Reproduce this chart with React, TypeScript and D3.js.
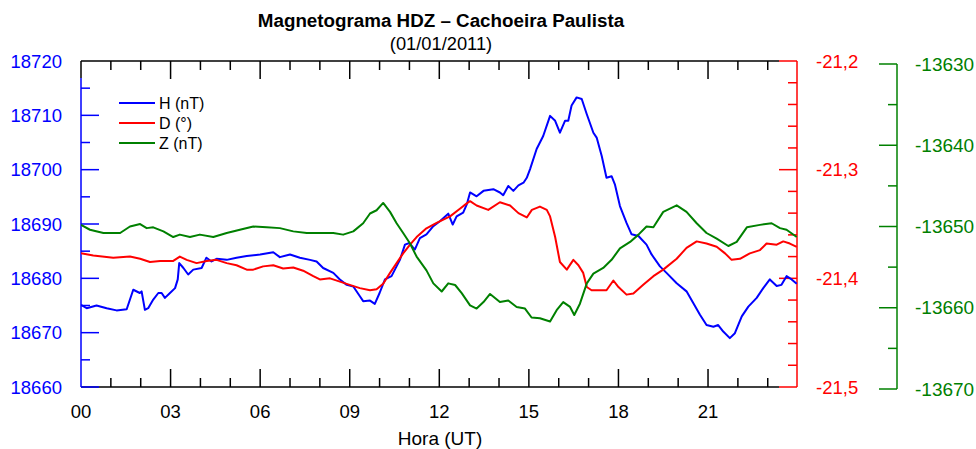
import React from "react";
import * as d3 from "d3";

// ---------- data ----------
const hHours = [0, 0.19, 0.52, 0.86, 1.19, 1.53, 1.64, 1.75, 1.97, 2.03, 2.14, 2.25, 2.42, 2.59, 2.7, 2.81, 2.98, 3.15, 3.24, 3.29, 3.43, 3.59, 3.76, 4.04, 4.2, 4.37, 4.54, 4.88, 5.21, 5.55, 6.0, 6.44, 6.66, 7.0, 7.33, 7.67, 7.89, 8.11, 8.45, 8.67, 8.9, 9.12, 9.34, 9.45, 9.68, 9.84, 10.0, 10.18, 10.4, 10.68, 10.85, 11.0, 11.18, 11.35, 11.57, 11.8, 12.02, 12.3, 12.45, 12.58, 12.8, 12.92, 13.03, 13.25, 13.48, 13.81, 14.03, 14.14, 14.31, 14.48, 14.65, 14.82, 14.93, 15.04, 15.26, 15.48, 15.71, 15.88, 16.04, 16.21, 16.32, 16.43, 16.6, 16.77, 16.94, 17.16, 17.27, 17.44, 17.6, 17.77, 17.88, 18.05, 18.27, 18.44, 18.67, 18.94, 19.11, 19.39, 19.61, 19.95, 20.28, 20.51, 20.73, 20.95, 21.18, 21.34, 21.51, 21.73, 21.9, 22.13, 22.35, 22.63, 22.85, 23.07, 23.3, 23.46, 23.63, 23.8, 23.97];
const hValues = [18675.1, 18674.5, 18675.0, 18674.5, 18674.1, 18674.3, 18676.1, 18677.9, 18677.3, 18677.6, 18674.2, 18674.5, 18676.1, 18677.3, 18677.3, 18676.4, 18677.3, 18678.2, 18679.8, 18682.8, 18681.9, 18680.7, 18681.6, 18681.9, 18683.8, 18683.1, 18683.6, 18683.4, 18683.8, 18684.1, 18684.4, 18684.8, 18683.9, 18684.4, 18683.8, 18683.4, 18683.1, 18681.9, 18681.0, 18679.8, 18678.8, 18678.5, 18676.7, 18675.8, 18675.9, 18675.3, 18677.3, 18679.8, 18680.4, 18683.4, 18686.2, 18686.5, 18685.3, 18687.4, 18688.1, 18689.6, 18690.5, 18691.9, 18689.9, 18691.4, 18692.1, 18693.6, 18695.8, 18695.1, 18696.1, 18696.4, 18695.8, 18695.3, 18697.0, 18696.1, 18697.1, 18697.6, 18698.5, 18700.1, 18703.8, 18706.2, 18709.9, 18709.0, 18706.8, 18709.0, 18709.0, 18711.8, 18713.3, 18713.0, 18710.2, 18706.8, 18705.9, 18702.5, 18698.5, 18698.8, 18697.3, 18693.3, 18690.2, 18688.1, 18687.8, 18686.2, 18684.4, 18682.2, 18681.0, 18679.1, 18677.6, 18675.4, 18673.3, 18671.4, 18671.1, 18671.4, 18670.2, 18669.0, 18669.9, 18673.0, 18674.8, 18676.4, 18678.2, 18679.8, 18678.6, 18678.8, 18680.4, 18679.8, 18679.0];

const dHours = [0, 0.41, 1.08, 1.64, 1.98, 2.31, 2.65, 3.09, 3.31, 3.54, 3.87, 4.21, 4.54, 4.88, 5.21, 5.55, 5.77, 6.1, 6.44, 6.77, 7.11, 7.44, 7.78, 8.0, 8.34, 8.67, 9.0, 9.34, 9.68, 9.9, 10.12, 10.35, 10.57, 10.79, 11.02, 11.24, 11.57, 11.91, 12.36, 12.69, 12.92, 13.03, 13.25, 13.64, 14.03, 14.37, 14.65, 14.93, 15.1, 15.37, 15.6, 15.71, 15.88, 16.04, 16.27, 16.49, 16.66, 16.82, 16.94, 17.1, 17.38, 17.6, 17.83, 18.0, 18.27, 18.5, 18.83, 19.17, 19.5, 19.95, 20.28, 20.62, 20.95, 21.29, 21.57, 21.79, 22.07, 22.4, 22.74, 22.96, 23.3, 23.52, 23.74, 23.97];
const dValues = [-21.377, -21.379, -21.381, -21.38, -21.382, -21.385, -21.384, -21.384, -21.38, -21.383, -21.386, -21.384, -21.383, -21.386, -21.388, -21.392, -21.392, -21.389, -21.388, -21.391, -21.39, -21.393, -21.398, -21.401, -21.4, -21.403, -21.406, -21.409, -21.411, -21.41, -21.405, -21.395, -21.386, -21.377, -21.369, -21.362, -21.354, -21.349, -21.343, -21.336, -21.331, -21.329, -21.333, -21.337, -21.33, -21.333, -21.34, -21.344, -21.337, -21.334, -21.337, -21.343, -21.362, -21.385, -21.392, -21.383, -21.388, -21.395, -21.408, -21.411, -21.411, -21.411, -21.402, -21.408, -21.415, -21.414, -21.406, -21.398, -21.392, -21.382, -21.372, -21.366, -21.368, -21.371, -21.377, -21.383, -21.382, -21.377, -21.374, -21.368, -21.369, -21.366, -21.368, -21.371];

const zHours = [0, 0.3, 0.75, 1.31, 1.64, 1.98, 2.2, 2.42, 2.76, 3.09, 3.31, 3.65, 3.98, 4.43, 4.88, 5.32, 5.77, 6.22, 6.66, 7.11, 7.56, 8.0, 8.45, 8.78, 9.12, 9.45, 9.68, 9.9, 10.12, 10.35, 10.57, 10.79, 11.02, 11.24, 11.57, 11.8, 12.08, 12.3, 12.53, 12.75, 13.03, 13.25, 13.48, 13.7, 14.03, 14.31, 14.59, 14.87, 15.09, 15.37, 15.71, 15.93, 16.15, 16.38, 16.52, 16.71, 16.94, 17.16, 17.49, 17.77, 18.05, 18.39, 18.67, 18.94, 19.17, 19.5, 19.95, 20.28, 20.62, 20.95, 21.29, 21.68, 21.96, 22.3, 22.74, 23.13, 23.41, 23.63, 23.97];
const zValues = [-13649.8, -13650.4, -13650.8, -13650.8, -13650.0, -13649.7, -13650.2, -13650.1, -13650.6, -13651.3, -13651.0, -13651.3, -13651.0, -13651.3, -13650.8, -13650.4, -13650.0, -13650.1, -13650.2, -13650.6, -13650.8, -13650.8, -13650.8, -13651.0, -13650.6, -13649.6, -13648.4, -13648.0, -13647.1, -13648.2, -13649.6, -13650.8, -13652.1, -13653.7, -13655.4, -13657.0, -13658.0, -13657.0, -13657.2, -13658.2, -13659.7, -13660.1, -13659.3, -13658.3, -13659.3, -13659.1, -13659.9, -13660.1, -13661.2, -13661.3, -13661.7, -13660.3, -13659.3, -13659.9, -13660.9, -13659.5, -13657.0, -13655.8, -13655.1, -13654.1, -13652.7, -13651.9, -13651.0, -13650.0, -13650.1, -13648.2, -13647.4, -13648.2, -13649.6, -13650.8, -13651.5, -13652.4, -13651.9, -13650.1, -13649.8, -13649.6, -13650.2, -13650.4, -13651.3];

const hourTicks = d3.range(0, 25, 1);
const hourLabels = ["00", "03", "06", "09", "12", "15", "18", "21"];
const hTicks = d3.range(18660, 18720.1, 5);
const dTicks = d3.range(0, 16, 1).map((i) => -21.5 + i * 0.02);
const zTicks = d3.range(-13670, -13629.9, 5);

const legendItems = ["H (nT)", "D (°)", "Z (nT)"];
const titleText = "Magnetograma HDZ – Cachoeira Paulista";
const subtitleText = "(01/01/2011)";
const xTitle = "Hora (UT)";

const BLUE = "#0000ff";
const RED = "#ff0000";
const GREEN = "#008000";
const FONT = "'Liberation Sans', Arial, sans-serif";

export default function App() {
  const W = 976, H = 449;
  const left = 81, right = 797.6, top = 61, bottom = 387;
  const x = d3.scaleLinear().domain([0, 24]).range([left, right]);
  const yH = d3.scaleLinear().domain([18660, 18720]).range([bottom, top]);
  const yD = d3.scaleLinear().domain([-21.5, -21.2]).range([bottom, top]);
  const yZ = d3.scaleLinear().domain([-13670, -13630]).range([389, 64]);

  const lineOf = (hours: number[], vals: number[], y: any) =>
    d3.line<number>().x((_, i) => x(hours[i])).y((v) => y(v))(vals) as string;

  const redX = 797;
  const greenX = 897;
  const blackEnd = 779;
  const TF = 18.5;

  return (
    <svg width={W} height={H} style={{ position: "absolute", left: 0, top: 0, background: "#fff" }} fontFamily={FONT}>
      <defs>
        <clipPath id="plotClip">
          <rect x={left} y={top} width={right - left} height={bottom - top} />
        </clipPath>
      </defs>
      <rect x={0} y={0} width={W} height={H} fill="#fff" />

      {/* titles */}
      <text x={441} y={27} textAnchor="middle" fontSize={18.8} fontWeight="bold">{titleText}</text>
      <text x={441} y={50} textAnchor="middle" fontSize={18.3}>{subtitleText}</text>

      {/* x axis frame (black) */}
      <g stroke="#000" strokeWidth={1.5} fill="none">
        <line x1={left} y1={top} x2={blackEnd} y2={top} />
        <line x1={left} y1={top} x2={left} y2={78} />
        <line x1={left} y1={bottom} x2={blackEnd} y2={bottom} />
        {hourTicks.filter((h) => h > 0 && h < 24).map((h) => {
          const len = h % 3 === 0 ? 18 : 9;
          return (
            <g key={h}>
              <line x1={x(h)} y1={top} x2={x(h)} y2={top + len} />
              <line x1={x(h)} y1={bottom} x2={x(h)} y2={bottom - len} />
            </g>
          );
        })}
      </g>
      {hourLabels.map((lab) => (
        <text key={lab} x={x(+lab)} y={418} textAnchor="middle" fontSize={TF}>{lab}</text>
      ))}
      <text x={440} y={445} textAnchor="middle" fontSize={19}>{xTitle}</text>

      {/* left H axis */}
      <g stroke={BLUE} strokeWidth={1.5}>
        <line x1={left} y1={78} x2={left} y2={bottom} />
        {hTicks.filter((v) => v < 18719).map((v) => (
          <line key={v} x1={left} y1={yH(v)} x2={left + (v % 10 === 0 ? 18 : 9)} y2={yH(v)} />
        ))}
      </g>
      {hTicks.filter((v) => v % 10 === 0).map((v) => (
        <text key={v} x={62} y={yH(v) + 6.5} textAnchor="end" fontSize={TF} fill={BLUE}>{v}</text>
      ))}

      {/* right D axis */}
      <g stroke={RED} strokeWidth={1.5}>
        <line x1={redX} y1={top} x2={redX} y2={bottom} />
        {dTicks.map((v, i) => (
          <line key={i} x1={redX} y1={yD(v)} x2={redX - (i % 5 === 0 ? 18 : 9)} y2={yD(v)} />
        ))}
      </g>
      {dTicks.filter((_, i) => i % 5 === 0).map((v, i) => (
        <text key={i} x={816} y={yD(v) + 6.5} fontSize={TF} fill={RED}>{d3.format(".1f")(v).replace(".", ",").replace("−", "-")}</text>
      ))}

      {/* far right Z axis */}
      <g stroke={GREEN} strokeWidth={1.5}>
        <line x1={greenX} y1={yZ(-13630)} x2={greenX} y2={yZ(-13670)} />
        {zTicks.map((v) => (
          <line key={v} x1={greenX} y1={yZ(v)} x2={greenX - (v % 10 === 0 ? 18 : 9)} y2={yZ(v)} />
        ))}
      </g>
      {zTicks.filter((v) => v % 10 === 0).map((v) => (
        <text key={v} x={915} y={yZ(v) + 6.5} fontSize={19} fill={GREEN}>{String(v)}</text>
      ))}

      {/* data lines */}
      <g clipPath="url(#plotClip)" fill="none" strokeWidth={2} strokeLinejoin="round">
        <path d={lineOf(hHours, hValues, yH)} stroke={BLUE} />
        <path d={lineOf(dHours, dValues, yD)} stroke={RED} />
        <path d={lineOf(zHours, zValues, yZ)} stroke={GREEN} />
      </g>

      {/* legend */}
      {legendItems.map((lab, i) => {
        const y = 103 + i * 20;
        const c = [BLUE, RED, GREEN][i];
        return (
          <g key={lab}>
            <line x1={119} x2={155} y1={y} y2={y} stroke={c} strokeWidth={2} />
            <text x={159} y={y + 5.5} fontSize={16}>{lab}</text>
          </g>
        );
      })}
    </svg>
  );
}
